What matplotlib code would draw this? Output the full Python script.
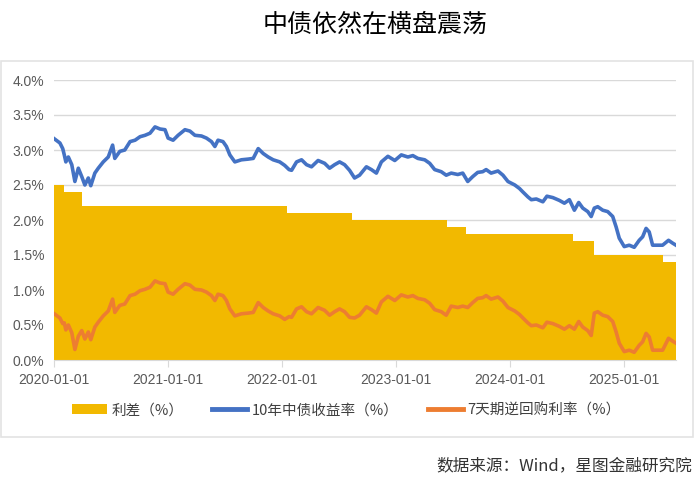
import matplotlib
matplotlib.use('Agg')
import matplotlib.pyplot as plt
import matplotlib.dates as mdates
import pandas as pd
from matplotlib.patches import Patch, Rectangle
from matplotlib.lines import Line2D
from matplotlib.ticker import FuncFormatter, MultipleLocator

plt.rcParams['font.family'] = ['Liberation Sans', 'Noto Sans CJK SC', 'DejaVu Sans']

# 10年中债收益率 与 橙线 (读图估计, %)
dates = [
    '2020-01-02', '2020-01-20', '2020-01-29', '2020-02-03', '2020-02-08', '2020-02-16',
    '2020-02-27', '2020-03-08', '2020-03-19', '2020-03-30', '2020-04-09', '2020-04-20',
    '2020-04-28', '2020-05-11', '2020-05-22', '2020-06-07', '2020-06-23', '2020-07-07',
    '2020-07-14', '2020-07-30', '2020-08-15', '2020-09-01', '2020-09-17', '2020-10-03',
    '2020-10-19', '2020-11-04', '2020-11-20', '2020-12-06', '2020-12-22', '2021-01-01',
    '2021-01-17', '2021-02-02', '2021-02-24', '2021-03-12', '2021-03-28', '2021-04-18',
    '2021-05-04', '2021-05-20', '2021-05-31', '2021-06-10', '2021-06-26', '2021-07-07',
    '2021-07-18', '2021-08-03', '2021-08-24', '2021-09-15', '2021-10-01', '2021-10-17',
    '2021-11-02', '2021-11-18', '2021-12-04', '2021-12-25', '2022-01-10', '2022-01-24',
    '2022-02-01', '2022-02-17', '2022-03-05', '2022-03-21', '2022-04-06', '2022-04-27',
    '2022-05-18', '2022-06-03', '2022-06-19', '2022-07-05', '2022-07-21', '2022-08-06',
    '2022-08-22', '2022-09-07', '2022-09-29', '2022-10-15', '2022-10-31', '2022-11-16',
    '2022-12-07', '2022-12-29', '2023-01-19', '2023-02-09', '2023-02-25', '2023-03-13',
    '2023-04-04', '2023-04-20', '2023-05-06', '2023-05-27', '2023-06-12', '2023-06-28',
    '2023-07-19', '2023-08-04', '2023-08-20', '2023-09-05', '2023-09-21', '2023-10-07',
    '2023-10-18', '2023-11-03', '2023-11-25', '2023-12-11', '2023-12-27', '2024-01-18',
    '2024-02-02', '2024-02-13', '2024-02-29', '2024-03-11', '2024-03-27', '2024-04-17',
    '2024-04-30', '2024-05-19', '2024-06-09', '2024-06-25', '2024-07-11', '2024-07-27',
    '2024-08-10', '2024-08-23', '2024-09-08', '2024-09-19', '2024-09-29', '2024-10-10',
    '2024-10-26', '2024-11-11', '2024-11-27', '2024-12-08', '2024-12-18', '2025-01-03',
    '2025-01-19', '2025-02-04', '2025-02-20', '2025-03-03', '2025-03-14', '2025-03-24',
    '2025-04-04', '2025-04-20', '2025-05-06', '2025-05-25', '2025-06-07', '2025-06-18',
]
yield_10y = [
    3.16, 3.10, 3.02, 2.93, 2.83, 2.90,
    2.79, 2.55, 2.74, 2.62, 2.50, 2.60,
    2.49, 2.67, 2.74, 2.83, 2.90, 3.07,
    2.88, 2.98, 3.00, 3.12, 3.14, 3.19,
    3.21, 3.24, 3.33, 3.30, 3.29, 3.17,
    3.14, 3.21, 3.29, 3.27, 3.21, 3.20,
    3.17, 3.12, 3.05, 3.14, 3.12, 3.05,
    2.93, 2.83, 2.86, 2.87, 2.88, 3.02,
    2.95, 2.90, 2.86, 2.83, 2.78, 2.72,
    2.71, 2.83, 2.86, 2.79, 2.76, 2.85,
    2.81, 2.74, 2.79, 2.83, 2.79, 2.71,
    2.60, 2.64, 2.76, 2.72, 2.67, 2.83,
    2.91, 2.85, 2.93, 2.90, 2.92, 2.88,
    2.86, 2.81, 2.72, 2.69, 2.64, 2.67,
    2.65, 2.67, 2.55, 2.62, 2.68, 2.69,
    2.72, 2.67, 2.70, 2.64, 2.55, 2.50,
    2.45, 2.40, 2.33, 2.29, 2.30, 2.26,
    2.34, 2.32, 2.28, 2.24, 2.29, 2.14,
    2.25, 2.17, 2.12, 2.05, 2.17, 2.19,
    2.14, 2.12, 2.05, 1.90, 1.74, 1.62,
    1.64, 1.61, 1.71, 1.76, 1.88, 1.83,
    1.64, 1.64, 1.64, 1.71, 1.67, 1.64,
]
repo_line = [
    0.66, 0.60, 0.52, 0.53, 0.43, 0.50,
    0.39, 0.15, 0.34, 0.42, 0.30, 0.40,
    0.29, 0.47, 0.54, 0.63, 0.70, 0.87,
    0.68, 0.78, 0.80, 0.92, 0.94, 0.99,
    1.01, 1.04, 1.13, 1.10, 1.09, 0.97,
    0.94, 1.01, 1.09, 1.07, 1.01, 1.00,
    0.97, 0.92, 0.85, 0.94, 0.92, 0.85,
    0.73, 0.63, 0.66, 0.67, 0.68, 0.82,
    0.75, 0.70, 0.66, 0.63, 0.58, 0.62,
    0.61, 0.73, 0.76, 0.69, 0.66, 0.75,
    0.71, 0.64, 0.69, 0.73, 0.69, 0.61,
    0.60, 0.64, 0.76, 0.72, 0.67, 0.83,
    0.91, 0.85, 0.93, 0.90, 0.92, 0.88,
    0.86, 0.81, 0.72, 0.69, 0.64, 0.77,
    0.75, 0.77, 0.75, 0.82, 0.88, 0.89,
    0.92, 0.87, 0.90, 0.84, 0.75, 0.70,
    0.65, 0.60, 0.53, 0.49, 0.50, 0.46,
    0.54, 0.52, 0.48, 0.44, 0.49, 0.44,
    0.55, 0.47, 0.42, 0.35, 0.67, 0.69,
    0.64, 0.62, 0.55, 0.40, 0.24, 0.12,
    0.14, 0.11, 0.21, 0.26, 0.38, 0.33,
    0.14, 0.14, 0.14, 0.31, 0.27, 0.24,
]

# 利差 (阶梯面积)
step_dates = ['2020-01-01', '2020-02-03', '2020-03-30', '2022-01-17', '2022-08-15',
              '2023-06-13', '2023-08-15', '2024-07-22', '2024-09-27', '2025-05-08', '2025-06-18']
step_values = [2.5, 2.4, 2.2, 2.1, 2.0, 1.9, 1.8, 1.7, 1.5, 1.4, 1.4]

gold = '#F2B900'
blue = '#4472C4'
orange = '#ED7D31'
grid_c = '#D9D9D9'

fig = plt.figure(figsize=(7, 4.87), dpi=100)
fig.patches.append(Rectangle((0.002, 1 - 437 / 487), 0.988, (437 - 61) / 487,
                             transform=fig.transFigure, fill=False,
                             edgecolor='#E3E3E3', lw=1.2))

ax = fig.add_axes([54 / 700, 1 - 360 / 487, 622 / 700, 280 / 487])

x = pd.to_datetime(dates)
sx = pd.to_datetime(step_dates)
ax.fill_between(sx, step_values, step='post', color=gold, lw=0, zorder=2)
ax.plot(x, yield_10y, color=blue, lw=2.6, zorder=3)
ax.plot(x, repo_line, color=orange, lw=2.6, zorder=3)

ax.set_ylim(0, 4.0)
ax.set_xlim(pd.Timestamp('2020-01-01'), pd.Timestamp('2025-06-18'))
ax.yaxis.set_major_locator(MultipleLocator(0.5))
ax.yaxis.set_major_formatter(FuncFormatter(lambda v, _: f'{v:.1f}%'))
ax.xaxis.set_major_locator(mdates.YearLocator())
ax.xaxis.set_major_formatter(mdates.DateFormatter('%Y-%m-%d'))
ax.grid(axis='y', color=grid_c, lw=1.0, zorder=0)
ax.set_axisbelow(True)
for s in ['top', 'right', 'left']:
    ax.spines[s].set_visible(False)
ax.spines['bottom'].set_color(grid_c)
ax.tick_params(axis='y', length=0, labelsize=10, labelcolor='#595959', pad=7)
ax.tick_params(axis='x', length=5, color=grid_c, labelsize=10, labelcolor='#595959', pad=4)

fig.text(375 / 700, 1 - 25 / 487, '中债依然在横盘震荡', ha='center', va='center',
         fontsize=18, fontweight='light', family=['Noto Sans CJK SC'], color='#000000')

handles = [Patch(facecolor=gold, edgecolor='none'),
           Line2D([], [], color=blue, lw=3.5),
           Line2D([], [], color=orange, lw=3.5)]
labels = ['利差（%）', '10年中债收益率（%）', '7天期逆回购利率（%）']
fig.legend(handles, labels, loc='center', bbox_to_anchor=(346 / 700, 1 - 410 / 487),
           ncol=3, frameon=False, handlelength=2.4, handleheight=0.6,
           handletextpad=0.3, columnspacing=2.0,
           prop={'family': ['Noto Sans CJK SC'], 'size': 10.5}, labelcolor='#404040')

fig.text(692 / 700, 1 - 466 / 487, '数据来源：Wind，星图金融研究院', ha='right', va='center',
         fontsize=12, fontweight='light', family=['Noto Sans CJK SC'], color='#333333')

fig.savefig('out.png', dpi=100)
